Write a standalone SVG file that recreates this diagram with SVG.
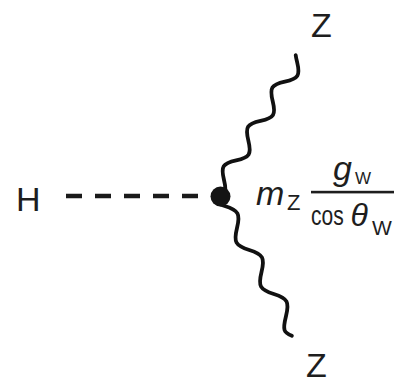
<svg xmlns="http://www.w3.org/2000/svg" width="394" height="384" viewBox="0 0 394 384">
<style>
.lbl{font-family:"Liberation Sans",Arial,sans-serif;fill:#1e1e1e}
.it{font-style:italic}
.wave{fill:none;stroke:#111;stroke-width:3.8;stroke-linecap:round;stroke-linejoin:round}
.dash{fill:none;stroke:#1a1a1a;stroke-width:4.5;stroke-dasharray:16 13}
</style>
<rect width="394" height="384" fill="#fff"/>
<g id="connectors">
<path class="dash" d="M66,196 H206"/>
<path class="wave" transform="translate(224,180) rotate(-58.26)" d="M-11.58,7.5 C-7.37,7.5 -3.87,3.94 0,0 c9.82,-10 13.33,-10 23.15,0 s13.33,10 23.15,0 s13.33,-10 23.15,0 s13.33,10 23.15,0 s13.33,-10 23.15,0 s13.33,10 23.15,0 c1.67,-1.7 3.33,-3.4 5,-4.7"/>
<path class="wave" transform="translate(237,228) rotate(60.9)" d="M-29.2,3.6 L-25.2,0 c10.7,-10 14.5,-10 25.2,0 s14.5,10 25.2,0 s14.5,-10 25.2,0 s14.5,10 25.2,0 s14.5,-10 25.2,0 s13,10 20.1,4.5"/>
</g>
<g id="vertex">
<circle cx="220.5" cy="196.5" r="10" fill="#141414"/>
<text class="lbl it" x="256" y="205" font-size="34">m</text>
<text class="lbl" x="287" y="210" font-size="22">Z</text>
<text class="lbl it" x="333" y="180" font-size="34">g</text>
<text class="lbl" x="355" y="183.5" font-size="17">W</text>
<rect x="311" y="190.8" width="83" height="2.6" fill="#1e1e1e"/>
<text class="lbl" transform="translate(311,225) scale(0.75,1)" x="0" y="0" font-size="28">cos</text>
<text class="lbl it" x="350.5" y="226" font-size="32">θ</text>
<text class="lbl" x="372" y="235" font-size="21">W</text>
</g>
<g id="H"><text class="lbl" x="16" y="211" font-size="34">H</text></g>
<g id="Z1"><text class="lbl" x="311" y="37" font-size="34">Z</text></g>
<g id="Z2"><text class="lbl" x="306" y="377" font-size="34">Z</text></g>
</svg>
